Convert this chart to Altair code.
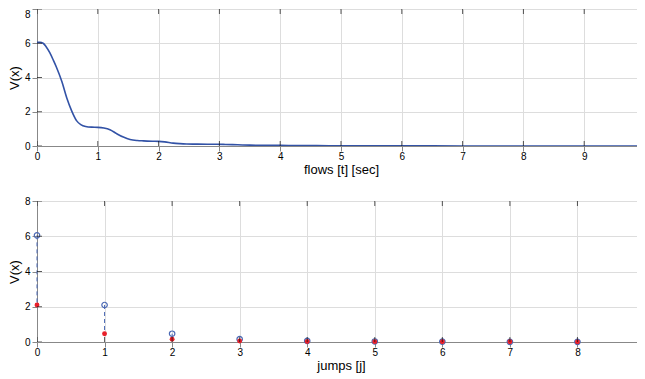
import altair as alt
import pandas as pd

# ---- data ----
flow_t = [0.0, 0.05, 0.1, 0.15, 0.21, 0.27, 0.32, 0.41, 0.49, 0.57, 0.65, 0.72, 0.8, 0.9,
          1.0, 1.1, 1.2, 1.31, 1.42, 1.53, 1.65, 1.75, 1.9, 2.0, 2.1, 2.24, 2.35, 2.46,
          2.6, 2.8, 2.95, 3.1, 3.3, 3.5, 3.8, 4.0, 4.3, 4.6, 5.0, 5.5, 6.0, 7.0, 8.0, 9.0, 10.0]
flow_v = [6.05, 6.05, 6.0, 5.8, 5.45, 5.0, 4.6, 3.75, 2.8, 2.05, 1.48, 1.25, 1.14, 1.1,
          1.09, 1.05, 0.95, 0.72, 0.52, 0.38, 0.32, 0.3, 0.28, 0.27, 0.24, 0.17, 0.14, 0.12,
          0.11, 0.1, 0.1, 0.09, 0.07, 0.05, 0.04, 0.035, 0.025, 0.02, 0.015, 0.01, 0.007,
          0.004, 0.002, 0.001, 0.0]

jump_j = [0, 1, 2, 3, 4, 5, 6, 7, 8, 9]
jump_start = [6.05, 2.1, 0.47, 0.16, 0.06, 0.03, 0.02, 0.01, 0.01, 0.005]
jump_end = [2.1, 0.47, 0.16, 0.06, 0.03, 0.02, 0.01, 0.01, 0.005, 0.003]

flow_ticks = [0, 1, 2, 3, 4, 5, 6, 7, 8, 9, 10]
jump_ticks = [0, 1, 2, 3, 4, 5, 6, 7, 8, 9]
v_ticks = [0, 2, 4, 6, 8]

W = 608
H_TOP, H_BOT = 137, 141
FONT = "Liberation Sans"
BLUE_LINE = "#3252a6"
BLUE_PT = "#4a68b4"
RED = "#e8202a"
VMAX = 8

yscale = alt.Scale(domain=[0, VMAX], nice=False, zero=False)


def make_yaxis(top_label_inside):
    kw = dict(values=v_ticks, tickCount=len(v_ticks), format="d", titlePadding=2.5,
              titleFontSize=13, titleFontWeight="normal", labelOverlap=False)
    if top_label_inside:
        kw["labelBaseline"] = {"condition": {"test": f"datum.value >= {VMAX}", "value": "top"},
                               "value": "middle"}
    return alt.Axis(**kw)


def frame_ticks(xticks, xmax, xtitle, xfield, yaxis):
    xscale = alt.Scale(domain=[0, xmax], nice=False, zero=False)
    xaxis = alt.Axis(values=xticks, format="d", labelFlush=False, titlePadding=2,
                     labelPadding=0, titleFontSize=13, titleFontWeight="normal",
                     labelOverlap=False)
    xenc = alt.X(f"{xfield}:Q", scale=xscale, axis=xaxis, title=xtitle)
    yenc = alt.Y("V:Q", scale=yscale, axis=yaxis, title="V(x)")
    layers = []
    # inward ticks on bottom and top edges
    for yv in (0, VMAX):
        tdf = pd.DataFrame({xfield: xticks, "V": [yv] * len(xticks)})
        layers.append(
            alt.Chart(tdf).mark_tick(orient="vertical", size=10, thickness=1,
                                     color="#111111", clip=True)
            .encode(x=xenc, y=yenc)
        )
    # inward ticks on left and right edges
    for xv in (0, xmax):
        ydf = pd.DataFrame({xfield: [xv] * len(v_ticks), "V": v_ticks})
        layers.append(
            alt.Chart(ydf).mark_tick(orient="horizontal", size=10, thickness=1,
                                     color="#111111", clip=True)
            .encode(x=xenc, y=yenc)
        )
    return xenc, yenc, layers


# ---- top panel: flows ----
fx, fy, ftick_layers = frame_ticks(flow_ticks, 10, "flows [t] [sec]", "t", make_yaxis(True))
flow_df = pd.DataFrame({"t": flow_t, "V": flow_v})
flow_line = alt.Chart(flow_df).mark_line(
    color=BLUE_LINE, strokeWidth=1.6, interpolate="monotone", clip=True
).encode(x=fx, y=fy)
top = alt.layer(flow_line, *ftick_layers).properties(width=W, height=H_TOP)

# ---- bottom panel: jumps ----
jx, jy, jtick_layers = frame_ticks(jump_ticks, 9, "jumps [j]", "j", make_yaxis(False))
jump_df = pd.DataFrame({"j": jump_j, "V": jump_start, "V2": jump_end})
dash = alt.Chart(jump_df).mark_rule(
    color=BLUE_PT, strokeDash=[4, 3], strokeWidth=1
).encode(x=jx, y=jy, y2="V2:Q")
start_pts = alt.Chart(jump_df).mark_point(
    shape="circle", filled=False, size=30, strokeWidth=1.2, color=BLUE_PT, opacity=1
).encode(x=jx, y=jy)
end_df = pd.DataFrame({"j": jump_j, "V": jump_end})
end_pts = alt.Chart(end_df).mark_circle(
    size=24, color=RED, opacity=1
).encode(x=jx, y=jy)
bottom = alt.layer(dash, start_pts, end_pts, *jtick_layers).properties(width=W, height=H_BOT)

chart = (
    alt.vconcat(top, bottom, spacing=18)
    .properties(padding={"left": 0, "top": 0, "right": -15, "bottom": 0})
    .configure_view(stroke="#111111", strokeWidth=1)
    .configure_axis(
        grid=True, gridColor="#8a8a8a", gridDash=[1, 3], gridWidth=1,
        ticks=False, tickSize=0, domain=False,
        labelFont=FONT, labelFontSize=11, labelColor="#222222", labelPadding=3,
        titleFont=FONT, titleFontSize=13, titleFontWeight="normal", titleColor="#111111",
    )
    .configure(background="white")
)

chart.save("out.html", embed_options={"renderer": "svg", "actions": False})
